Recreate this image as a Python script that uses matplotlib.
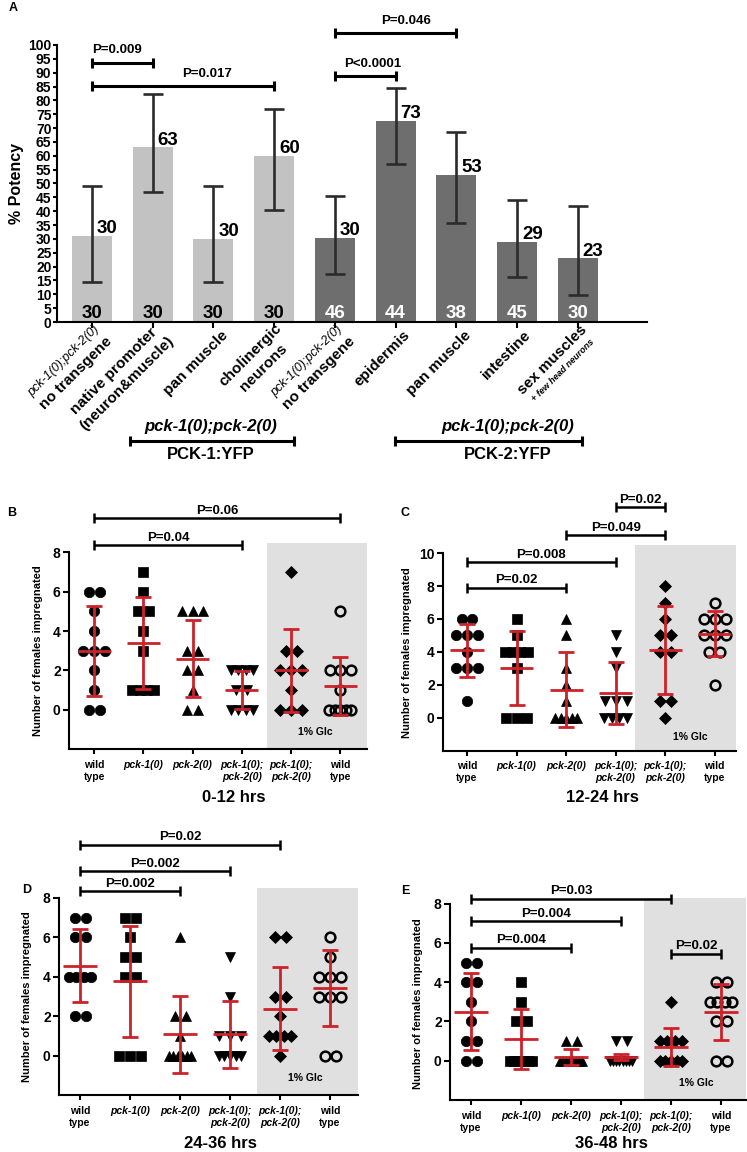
import numpy as np
import matplotlib
matplotlib.use("Agg")
import matplotlib.pyplot as plt
from matplotlib.font_manager import FontProperties
from matplotlib.textpath import text_to_path

FAMILY = ["Liberation Sans", "DejaVu Sans"]
plt.rcParams["font.family"] = FAMILY
plt.rcParams["font.weight"] = "bold"
plt.rcParams["axes.linewidth"] = 1.5

W, H, DPI = 747, 1152, 100

# ---------------- panel A data (% potency)
bar_labels = [
    ["pck-1(0);pck-2(0)", "no transgene"],
    ["native promoter", "(neuron&muscle)"],
    ["pan muscle"],
    ["cholinergic", "neurons"],
    ["pck-1(0);pck-2(0)", "no transgene"],
    ["epidermis"],
    ["pan muscle"],
    ["intestine"],
    ["sex muscles", "+ few head neurons"],
]
potency = [31, 63, 30, 60, 30.5, 72.6, 53, 29, 23]
potency_txt = ["30", "63", "30", "60", "30", "73", "53", "29", "23"]
ci_low = [14.5, 46.8, 14.5, 40.3, 17.5, 56.9, 35.6, 16.1, 9.7]
ci_high = [49.2, 82.2, 49.2, 76.9, 45.4, 84.5, 68.6, 43.9, 42.0]
n_worms = [30, 30, 30, 30, 46, 44, 38, 45, 30]
series = ["PCK-1"] * 4 + ["PCK-2"] * 5

a_pairs = [(0, 1), (0, 3), (4, 5), (4, 6)]
a_pvals = ["P=0.009", "P=0.017", "P<0.0001", "P=0.046"]
a_brk_y = [93.6, 85.2, 88.8, 104.4]
a_txt_x = [0.42, 1.9, 4.62, 5.18]

# ---------------- panels B-E data (females impregnated)
groups = ["wild\ntype", "pck-1(0)", "pck-2(0)", "pck-1(0);\npck-2(0)",
          "pck-1(0);\npck-2(0)", "wild\ntype"]

b_points = [[6, 6, 5, 4, 3, 3, 3, 2, 1, 0, 0],
            [7, 6, 5, 5, 4, 3, 1, 1, 1, 1],
            [5, 5, 5, 3, 3, 2, 2, 1, 0, 0],
            [2, 2, 2, 2, 1, 1, 0, 0, 0, 0],
            [7, 3, 3, 2, 2, 2, 1, 0, 0, 0],
            [5, 2, 2, 2, 1, 0, 0, 0, 0, 0]]
b_mean = [3.0, 3.4, 2.6, 1.0, 2.0, 1.2]
b_sd = [2.28, 2.33, 1.97, 0.96, 2.1, 1.48]
b_pairs = [(0, 3), (0, 5)]
b_pvals = ["P=0.04", "P=0.06"]
b_brk_y = [8.38, 9.75]

c_points = [[6, 6, 5, 5, 5, 4, 3, 3, 3, 1],
            [6, 5, 4, 4, 4, 4, 3, 0, 0, 0],
            [6, 5, 3, 2, 1, 0, 0, 0, 0, 0],
            [5, 4, 3, 1, 1, 1, 0, 0, 0, 0],
            [8, 7, 6, 5, 5, 4, 4, 1, 1, 0],
            [7, 6, 6, 6, 5, 5, 5, 4, 4, 2]]
c_mean = [4.1, 3.0, 1.7, 1.5, 4.1, 5.1]
c_sd = [1.6, 2.24, 2.28, 1.87, 2.68, 1.37]
c_pairs = [(0, 2), (0, 3), (2, 4), (3, 4)]
c_pvals = ["P=0.02", "P=0.008", "P=0.049", "P=0.02"]
c_brk_y = [7.9, 9.47, 11.1, 12.8]

d_points = [[7, 7, 6, 6, 4, 4, 4, 4, 2, 2],
            [7, 7, 6, 5, 5, 4, 4, 0, 0, 0],
            [6, 2, 2, 1, 0, 0, 0, 0, 0, 0],
            [5, 3, 1, 1, 1, 0, 0, 0, 0, 0],
            [6, 6, 3, 3, 2, 1, 1, 1, 1, 0],
            [6, 5, 4, 4, 4, 3, 3, 3, 0, 0]]
d_mean = [4.56, 3.78, 1.08, 1.08, 2.38, 3.43]
d_sd = [1.84, 2.81, 1.93, 1.68, 2.11, 1.93]
d_pairs = [(0, 2), (0, 3), (0, 4)]
d_pvals = ["P=0.002", "P=0.002", "P=0.02"]
d_brk_y = [8.35, 9.35, 10.7]

e_points = [[5, 5, 4, 4, 3, 2, 1, 1, 0, 0],
            [4, 3, 2, 2, 0, 0, 0, 0, 0, 0],
            [1, 1, 0, 0, 0, 0, 0, 0, 0, 0],
            [1, 1, 0, 0, 0, 0, 0, 0, 0, 0],
            [3, 1, 1, 1, 1, 0, 0, 0, 0, 0],
            [4, 4, 3, 3, 3, 3, 2, 2, 0, 0]]
e_mean = [2.5, 1.1, 0.2, 0.2, 0.7, 2.5]
e_sd = [1.97, 1.53, 0.42, 0.15, 0.95, 1.42]
e_pairs = [(0, 2), (0, 3), (0, 4), (4, 5)]
e_pvals = ["P=0.004", "P=0.004", "P=0.03", "P=0.02"]
e_brk_y = [5.75, 7.1, 8.25, 5.45]


def px_rect(left, right, bottom, top):
    return [left / W, 1 - bottom / H, (right - left) / W, (bottom - top) / H]


def sig_bracket(ax, x0, x1, y, text, tx=None, lw=1.7, ms=6.5, fs=9.5, dy=1.0):
    ax.plot([x0, x1], [y, y], color="black", lw=lw, clip_on=False,
            solid_capstyle="butt", zorder=6)
    ax.plot([x0, x1], [y, y], ls="none", marker="|", ms=ms, mew=lw,
            color="black", clip_on=False, zorder=6)
    ax.annotate(text, xy=((x0 + x1) / 2 if tx is None else tx, y),
                xytext=(0, dy), textcoords="offset points", ha="center",
                va="bottom", fontsize=fs, fontweight="bold",
                annotation_clip=False)


def swarm(vals, x0, dx=0.22, span=0.45):
    vals = np.asarray(vals, float)
    xs = np.zeros_like(vals)
    for v in np.unique(vals):
        idx = np.where(vals == v)[0]
        n = len(idx)
        step = min(dx, span / (n - 1)) if n > 1 else 0
        xs[idx] = x0 + (np.arange(n) - (n - 1) / 2) * step
    return xs


def label_props(s):
    if s.startswith("pck"):
        return {"size": 9, "style": "italic", "weight": "normal"}
    if s.startswith("+"):
        return {"size": 6.5, "style": "italic", "weight": "bold"}
    return {"size": 11, "style": "normal", "weight": "bold"}


fig = plt.figure(figsize=(W / DPI, H / DPI), dpi=DPI)

# ================= panel A
axA = fig.add_axes(px_rect(57, 647, 322, 17.3))
xa = np.arange(len(potency))
cols = ["#c2c2c2" if s == "PCK-1" else "#6e6e6e" for s in series]
axA.bar(xa, potency, width=0.66, color=cols, zorder=2)
err = [np.array(potency) - np.array(ci_low), np.array(ci_high) - np.array(potency)]
axA.errorbar(xa, potency, yerr=err, fmt="none", ecolor="#2b2b2b",
             elinewidth=1.9, capsize=7.2, capthick=1.9, zorder=3)
for i in range(len(xa)):
    axA.annotate(potency_txt[i], xy=(xa[i], potency[i]), xytext=(3.5, 2),
                 textcoords="offset points", ha="left", va="baseline",
                 fontsize=13.5, fontweight="bold", zorder=4)
    axA.annotate(str(n_worms[i]), xy=(xa[i], 0), xytext=(0, 3.2),
                 textcoords="offset points", ha="center", va="baseline",
                 fontsize=13.5, fontweight="bold",
                 color="black" if series[i] == "PCK-1" else "white", zorder=4)

axA.set_xlim(-0.576, 9.14)
axA.set_ylim(0, 110)
axA.set_yticks(np.arange(0, 101, 5))
axA.tick_params(axis="y", labelsize=10, length=3, width=1.5, pad=1)
axA.tick_params(axis="x", length=4, width=1.5)
axA.set_xticks(xa)
axA.set_xticklabels([])
for s in ["top", "right"]:
    axA.spines[s].set_visible(False)
axA.spines["left"].set_bounds(0, 100)
axA.set_ylabel("% Potency", fontsize=11.5, fontweight="bold")
axA.yaxis.set_label_coords(-0.056, 0.455)

for (i0, i1), p, y, tx in zip(a_pairs, a_pvals, a_brk_y, a_txt_x):
    sig_bracket(axA, xa[i0], xa[i1], y, p, tx=tx, lw=2.2, ms=7, dy=4.5)

# rotated category labels
ANG = 45
u = np.array([np.cos(np.radians(ANG)), np.sin(np.radians(ANG))])
nv = np.array([np.sin(np.radians(ANG)), -np.cos(np.radians(ANG))])
anchor = np.array([8.6, -7.9])
for i, lines in enumerate(bar_labels):
    props = [label_props(s) for s in lines]
    widths = [text_to_path.get_text_width_height_descent(
        s, FontProperties(family=FAMILY, **p), ismath=False)[0]
        for s, p in zip(lines, props)]
    gaps = [0.6 * (props[j]["size"] + props[j + 1]["size"]) for j in range(len(lines) - 1)]
    offs = np.concatenate([[0.0], np.cumsum(gaps)])
    offs -= (offs[0] + offs[-1]) / 2
    centre = anchor - u * max(widths) / 2
    for s, p, o in zip(lines, props, offs):
        pos = centre + nv * o
        axA.annotate(s, xy=(xa[i], 0), xytext=tuple(pos), textcoords="offset points",
                     rotation=ANG, rotation_mode="anchor", ha="center", va="center",
                     fontsize=p["size"], fontstyle=p["style"], fontweight=p["weight"],
                     annotation_clip=False)

# transgene group brackets under panel A
for (gx0, gx1), gtxt, tx in [((0.625, 3.325), "PCK-1:YFP", 1.95),
                             ((4.99, 8.07), "PCK-2:YFP", 6.85)]:
    axA.plot([gx0, gx1], [-43, -43], color="black", lw=2.2, clip_on=False,
             solid_capstyle="butt")
    axA.plot([gx0, gx1], [-43, -43], ls="none", marker="|", ms=7, mew=2.2,
             color="black", clip_on=False)
    axA.text(tx, -37.9, "pck-1(0);pck-2(0)", fontsize=12, fontstyle="italic",
             fontweight="bold", ha="center", va="center", clip_on=False)
    axA.text(tx, -48.0, gtxt, fontsize=12, fontweight="bold", ha="center",
             va="center", clip_on=False)

# ================= panels B-E
markers = ["o", "s", "^", "v", "D", "o"]
msizes = [7.5, 7, 7.5, 7.5, 6.2, 7]
RED = "#cc2229"

panels = [
    dict(tag="B", title="0-12 hrs", pts=b_points, mean=b_mean, sd=b_sd,
         pairs=b_pairs, pvals=b_pvals, brk=b_brk_y,
         rect=(69, 367, 749, 542.6), ylim=(-2, 8.5), ytop=8, xlim=(-0.51, 5.54),
         shade=3.51, ylab_x=-0.087, title_px=(234, 798), tag_px=(12, 513)),
    dict(tag="C", title="12-24 hrs", pts=c_points, mean=c_mean, sd=c_sd,
         pairs=c_pairs, pvals=c_pvals, brk=c_brk_y,
         rect=(443, 736, 750.5, 545), ylim=(-2, 10.5), ytop=10, xlim=(-0.485, 5.43),
         shade=3.4, ylab_x=-0.106, title_px=(602, 798), tag_px=(405, 513)),
    dict(tag="D", title="24-36 hrs", pts=d_points, mean=d_mean, sd=d_sd,
         pairs=d_pairs, pvals=d_pvals, brk=d_brk_y,
         rect=(59, 358, 1095.2, 888), ylim=(-2, 8.5), ytop=8, xlim=(-0.42, 5.56),
         shade=3.54, ylab_x=-0.09, title_px=(220, 1144), tag_px=(27, 890)),
    dict(tag="E", title="36-48 hrs", pts=e_points, mean=e_mean, sd=e_sd,
         pairs=e_pairs, pvals=e_pvals, brk=e_brk_y,
         rect=(450, 746, 1100, 897.7), ylim=(-2, 8.3), ytop=8, xlim=(-0.42, 5.5),
         shade=3.46, ylab_x=-0.091, title_px=(611, 1143), tag_px=(405, 891)),
]

for pn in panels:
    ax = fig.add_axes(px_rect(*pn["rect"]))
    ax.set_xlim(*pn["xlim"])
    ax.set_ylim(*pn["ylim"])
    ax.axvspan(pn["shade"], pn["xlim"][1], color="#e0e0e0", lw=0, zorder=0)
    for g, vals in enumerate(pn["pts"]):
        xs = swarm(vals, g)
        hollow = g == len(pn["pts"]) - 1
        ax.plot(xs, vals, ls="none", marker=markers[g], ms=msizes[g],
                mfc="none" if hollow else "black", mec="black",
                mew=1.8 if hollow else 0.5, zorder=3, clip_on=False)
    gx = np.arange(len(pn["mean"]))
    ax.errorbar(gx, pn["mean"], yerr=pn["sd"], fmt="none", ecolor=RED,
                elinewidth=2.0, capsize=6.1, capthick=2.0, zorder=4)
    ax.hlines(pn["mean"], gx - 0.335, gx + 0.335, color=RED, lw=2.0, zorder=4)

    ax.set_xticks(gx)
    ax.set_xticklabels(groups, fontsize=7.5, fontweight="bold", linespacing=1.3)
    for lab in ax.get_xticklabels():
        if lab.get_text().startswith("pck"):
            lab.set_fontstyle("italic")
    ax.set_yticks(np.arange(0, pn["ytop"] + 1, 2))
    ax.tick_params(axis="y", labelsize=10, length=4, width=1.5, pad=2)
    ax.tick_params(axis="x", length=3.6, width=1.5, pad=4)
    for s in ["top", "right"]:
        ax.spines[s].set_visible(False)
    ax.spines["left"].set_bounds(pn["ylim"][0], pn["ytop"])
    ax.set_ylabel("Number of females impregnated", fontsize=8, fontweight="bold")
    ax.yaxis.set_label_coords(pn["ylab_x"], 0.475)
    ax.text(4.5, -1.15, "1% Glc", fontsize=7.5, fontweight="bold",
            ha="center", va="center", zorder=2)

    for (i0, i1), p, y in zip(pn["pairs"], pn["pvals"], pn["brk"]):
        sig_bracket(ax, i0, i1, y, p, lw=1.8, ms=6.7, dy=1.0)

    fig.text(pn["title_px"][0] / W, 1 - pn["title_px"][1] / H, pn["title"],
             fontsize=12, fontweight="bold", ha="center", va="center")
    fig.text(pn["tag_px"][0] / W, 1 - pn["tag_px"][1] / H, pn["tag"],
             fontsize=9, fontweight="bold", ha="center", va="center")

fig.text(13 / W, 1 - 8 / H, "A", fontsize=9, fontweight="bold", ha="center", va="center")

fig.savefig("out.png", dpi=DPI)
